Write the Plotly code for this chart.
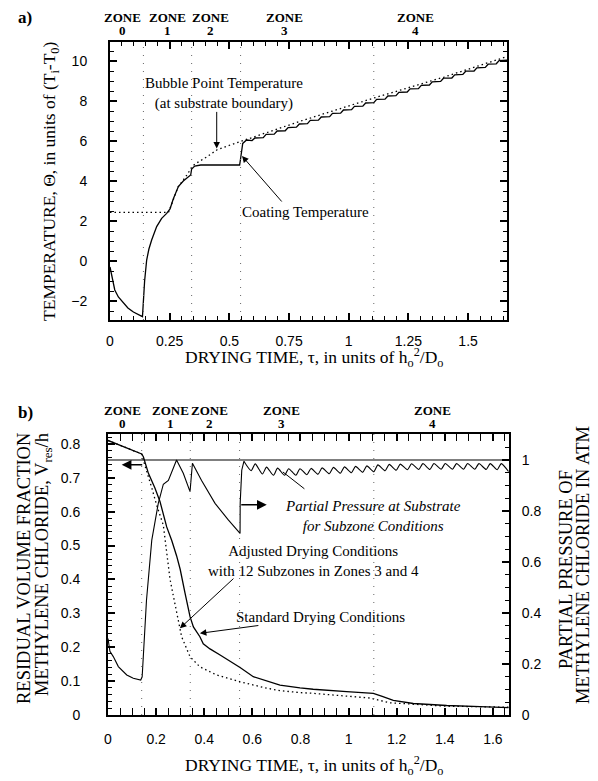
import plotly.graph_objects as go

# page body has an 8px margin; the figure is sized/placed so it fills the 598x781 window
OX, OY = 8, 8
W, H = 598 - OX, 781 - OY


def px(x):
    return (x - OX) / W


def py(y):
    return 1 - (y - OY) / H


# ---------------- shared ----------------
zone_bounds = [0.14, 0.342, 0.547, 1.105]
zone_nums = ["0", "1", "2", "3", "4"]
zone_lbl_x_a = [0.054, 0.239, 0.423, 0.733, 1.278]
zone_lbl_x_b = [0.062, 0.258, 0.424, 0.723, 1.351]

# ---------------- panel a: temperatures ----------------
coat_t = [0.0, 0.01, 0.02, 0.035, 0.056, 0.075, 0.098, 0.12, 0.136, 0.145, 0.1536, 0.163,
          0.1745, 0.1955, 0.2164, 0.2374, 0.2514, 0.265, 0.2863, 0.307, 0.325, 0.338, 0.342,
          0.355, 0.38, 0.45, 0.543, 0.548, 0.556, 0.572,
          0.595, 0.607, 0.642, 0.654, 0.688, 0.700, 0.734, 0.746, 0.781, 0.793,
          0.827, 0.839, 0.873, 0.885, 0.920, 0.932, 0.966, 0.978, 1.012, 1.024,
          1.059, 1.071, 1.105, 1.117, 1.152, 1.164, 1.198, 1.210, 1.245, 1.257,
          1.292, 1.304, 1.338, 1.350, 1.385, 1.397, 1.432, 1.444, 1.478, 1.490,
          1.525, 1.537, 1.572, 1.584, 1.618, 1.630, 1.665]
coat_T = [-0.3, -0.9, -1.45, -1.8, -2.1, -2.35, -2.55, -2.7, -2.78, -1.0, 0.05, 0.6,
          1.05, 1.72, 2.13, 2.38, 2.6, 3.1, 3.72, 4.0, 4.15, 4.3, 4.6,
          4.75, 4.8, 4.8, 4.8, 5.2, 5.88, 6.05,
          6.02, 6.15, 6.17, 6.33, 6.34, 6.50, 6.51, 6.67, 6.69, 6.85,
          6.87, 7.03, 7.04, 7.20, 7.22, 7.38, 7.39, 7.55, 7.57, 7.73,
          7.74, 7.90, 7.92, 8.08, 8.09, 8.25, 8.27, 8.43, 8.45, 8.61,
          8.62, 8.78, 8.80, 8.96, 8.98, 9.14, 9.15, 9.31, 9.33, 9.49,
          9.50, 9.66, 9.68, 9.84, 9.86, 10.02, 10.05]

bubble_t = [0.0, 0.245, 0.26, 0.285, 0.307, 0.325, 0.345, 0.363, 0.405, 0.447, 0.503,
            0.545, 0.56, 0.8, 1.1, 1.4, 1.665]
bubble_T = [2.43, 2.43, 2.9, 3.7, 4.05, 4.35, 4.75, 4.9, 5.2, 5.55, 5.8,
            5.97, 6.05, 7.0, 8.13, 9.2, 10.23]

# ---------------- panel b: residual fraction & partial pressure ----------------
adj_t = [0.0, 0.14, 0.147, 0.168, 0.195, 0.216, 0.244, 0.265, 0.285, 0.3, 0.32, 0.341,
         0.355, 0.382, 0.396, 0.424, 0.466, 0.535, 0.549, 0.604, 0.687, 0.715, 0.798,
         0.853, 0.992, 1.103, 1.14, 1.186, 1.269, 1.408, 1.546, 1.665]
adj_v = [0.81, 0.77, 0.762, 0.713, 0.67, 0.63, 0.555, 0.515, 0.47, 0.43, 0.36, 0.29,
         0.26, 0.231, 0.21, 0.195, 0.177, 0.148, 0.14, 0.113, 0.093, 0.088, 0.08,
         0.076, 0.069, 0.064, 0.055, 0.043, 0.034, 0.028, 0.025, 0.022]

std_t = [0.0, 0.14, 0.154, 0.161, 0.182, 0.202, 0.23, 0.244, 0.258, 0.272, 0.285, 0.306,
         0.341, 0.382, 0.452, 0.549, 0.66, 0.715, 0.798, 0.853, 1.089, 1.172, 1.408, 1.665]
std_v = [0.81, 0.77, 0.735, 0.72, 0.67, 0.62, 0.56, 0.48, 0.40, 0.35, 0.30, 0.231,
         0.172, 0.142, 0.118, 0.098, 0.079, 0.072, 0.066, 0.064, 0.05, 0.036, 0.026, 0.023]

# partial pressure: zones 0-2 and the jump into zone 3
pp_t = [0.0, 0.008, 0.022, 0.043, 0.078, 0.105, 0.136, 0.142, 0.16, 0.182, 0.209, 0.23,
        0.251, 0.265, 0.285, 0.313, 0.341, 0.351, 0.389, 0.445, 0.5, 0.549, 0.5495,
        0.556, 0.565]
pp_v = [0.30, 0.25, 0.229, 0.19, 0.157, 0.144, 0.137, 0.15, 0.45, 0.686, 0.83, 0.905,
        0.92, 0.954, 1.0, 0.948, 0.876, 0.987, 0.92, 0.83, 0.765, 0.712, 0.83,
        0.96, 0.995]
# partial pressure: 12 subzones in zone 3 and 12 in zone 4 (sawtooth)
pp_sub_t = [0.565,
            0.595, 0.612, 0.642, 0.659, 0.688, 0.705, 0.734, 0.751, 0.781, 0.798,
            0.827, 0.844, 0.873, 0.890, 0.920, 0.937, 0.966, 0.983, 1.012, 1.029,
            1.059, 1.076, 1.105, 1.122, 1.152, 1.169, 1.198, 1.215, 1.245, 1.262,
            1.292, 1.309, 1.338, 1.355, 1.385, 1.402, 1.432, 1.449, 1.478, 1.495,
            1.525, 1.542, 1.572, 1.589, 1.618, 1.635, 1.665]
pp_sub_v = [0.995,
            0.958, 0.985, 0.945, 0.972, 0.94, 0.968, 0.94, 0.966, 0.94, 0.966,
            0.942, 0.967, 0.944, 0.969, 0.946, 0.971, 0.948, 0.973, 0.95, 0.975,
            0.952, 0.977, 0.954, 0.981, 0.958, 0.983, 0.96, 0.984, 0.962, 0.985,
            0.963, 0.986, 0.963, 0.986, 0.964, 0.986, 0.964, 0.986, 0.964, 0.986,
            0.964, 0.986, 0.963, 0.986, 0.962, 0.986, 0.955]

pp_ref = 1.0

SERIF = "Liberation Serif"
SANS = "Liberation Sans"

fig = go.Figure()
fig.add_trace(go.Scatter(x=bubble_t, y=bubble_T, mode="lines", xaxis="x", yaxis="y",
                         line=dict(color="black", width=1.3, dash="1.5px,3px"), showlegend=False))
fig.add_trace(go.Scatter(x=coat_t, y=coat_T, mode="lines", xaxis="x", yaxis="y",
                         line=dict(color="black", width=1.3), showlegend=False))
fig.add_trace(go.Scatter(x=std_t, y=std_v, mode="lines", xaxis="x2", yaxis="y2",
                         line=dict(color="black", width=1.3, dash="1.5px,3px"), showlegend=False))
fig.add_trace(go.Scatter(x=adj_t, y=adj_v, mode="lines", xaxis="x2", yaxis="y2",
                         line=dict(color="black", width=1.3), showlegend=False))
fig.add_trace(go.Scatter(x=pp_t, y=pp_v, mode="lines", xaxis="x2", yaxis="y3",
                         line=dict(color="black", width=1.1), showlegend=False))
fig.add_trace(go.Scatter(x=pp_sub_t, y=pp_sub_v, mode="lines", xaxis="x2", yaxis="y3",
                         line=dict(color="black", width=1.1, shape="spline", smoothing=0.6),
                         showlegend=False))

axis_common = dict(showgrid=False, zeroline=False, showline=True, linecolor="black",
                   linewidth=2, ticks="inside", ticklen=7, tickwidth=1.5, tickcolor="black",
                   automargin=False,
                   tickfont=dict(family=SANS, size=14, color="black"))
minor_common = dict(tick0=0, ticks="inside", ticklen=4, tickwidth=1, tickcolor="black")

fig.update_layout(
    width=W, height=H, margin=dict(l=0, r=0, t=0, b=0, autoexpand=False),
    paper_bgcolor="white", plot_bgcolor="white", showlegend=False,
    xaxis=dict(axis_common, domain=[px(110), px(507)], anchor="y", range=[0, 1.663],
               tickvals=[0, 0.25, 0.5, 0.75, 1, 1.25, 1.5],
               ticktext=["0", "0.25", "0.5", "0.75", "1", "1.25", "1.5"],
               mirror="allticks", ticklabelstandoff=7,
               minor=dict(minor_common, dtick=0.05)),
    yaxis=dict(axis_common, domain=[py(320), py(42)], anchor="x", range=[-2.95, 10.95],
               tickvals=[-2, 0, 2, 4, 6, 8, 10], mirror="allticks", ticklabelstandoff=18,
               minor=dict(minor_common, dtick=0.5)),
    xaxis2=dict(axis_common, domain=[px(108), px(509)], anchor="y2", range=[0, 1.667],
                tickvals=[0, 0.2, 0.4, 0.6, 0.8, 1, 1.2, 1.4, 1.6],
                ticktext=["0", "0.2", "0.4", "0.6", "0.8", "1", "1.2", "1.4", "1.6"],
                mirror="allticks", ticklabelstandoff=10,
                minor=dict(minor_common, dtick=0.05)),
    yaxis2=dict(axis_common, domain=[py(715), py(434)], anchor="x2", range=[0, 0.829],
                tickvals=[0, 0.1, 0.2, 0.3, 0.4, 0.5, 0.6, 0.7, 0.8],
                ticktext=["0", "0.1", "0.2", "0.3", "0.4", "0.5", "0.6", "0.7", "0.8"],
                ticklabelstandoff=23,
                minor=dict(minor_common, dtick=0.02)),
    yaxis3=dict(axis_common, overlaying="y2", anchor="x2", side="right", range=[0, 1.102],
                tickvals=[0, 0.2, 0.4, 0.6, 0.8, 1], ticktext=["0", "0.2", "0.4", "0.6", "0.8", "1"],
                ticklabelstandoff=8,
                minor=dict(minor_common, dtick=0.05)),
)

shapes = []
for b in zone_bounds:
    shapes.append(dict(type="line", xref="x", yref="y domain", x0=b, x1=b, y0=0, y1=1,
                       line=dict(color="#666", width=1, dash="1px,7px")))
    shapes.append(dict(type="line", xref="x2", yref="y2 domain", x0=b, x1=b, y0=0, y1=1,
                       line=dict(color="#666", width=1, dash="1px,7px")))
shapes.append(dict(type="line", xref="x2 domain", yref="y3", x0=0, x1=1, y0=pp_ref, y1=pp_ref,
                   line=dict(color="black", width=1.2)))
fig.update_layout(shapes=shapes)

ann = []


def ptext(x, y, text, font, angle=0):
    ann.append(dict(x=px(x), y=py(y), xref="paper", yref="paper", text=text, textangle=angle,
                    showarrow=False, font=font, xanchor="center", yanchor="middle"))


zf = dict(family=SERIF, size=13, color="black")
for xv, n in zip(zone_lbl_x_a, zone_nums):
    ann.append(dict(x=xv, y=py(17), xref="x", yref="paper", text="<b>ZONE</b>",
                    showarrow=False, font=zf, xanchor="center", yanchor="middle"))
    ann.append(dict(x=xv, y=py(31), xref="x", yref="paper", text="<b>" + n + "</b>",
                    showarrow=False, font=zf, xanchor="center", yanchor="middle"))
for xv, n in zip(zone_lbl_x_b, zone_nums):
    ann.append(dict(x=xv, y=py(410), xref="x2", yref="paper", text="<b>ZONE</b>",
                    showarrow=False, font=zf, xanchor="center", yanchor="middle"))
    ann.append(dict(x=xv, y=py(423), xref="x2", yref="paper", text="<b>" + n + "</b>",
                    showarrow=False, font=zf, xanchor="center", yanchor="middle"))

ptext(25, 18, "<b>a)</b>", dict(family=SERIF, size=17, color="black"))
ptext(25, 412, "<b>b)</b>", dict(family=SERIF, size=17, color="black"))

tf = dict(family=SERIF, size=17.5, color="black")
xtitle = "DRYING TIME, τ, in units of h<sub>o</sub><sup>2</sup>/D<sub>o</sub>"
ptext(314, 357, xtitle, tf)
ptext(314, 765, xtitle, tf)
ptext(50, 181, "TEMPERATURE, Θ, in units of (T<sub>i</sub>-T<sub>0</sub>)", tf, -90)
yf = dict(family=SERIF, size=18.5, color="black")
ptext(24, 569, "RESIDUAL VOLUME FRACTION", yf, -90)
ptext(43, 565, "METHYLENE CHLORIDE, V<sub>res</sub>/h", yf, -90)
ptext(566, 570, "PARTIAL PRESSURE OF", yf, -90)
ptext(583, 565, "METHYLENE CHLORIDE IN ATM", yf, -90)

lf = dict(family=SERIF, size=15, color="black")
# panel a labels
ann.append(dict(x=0.478, y=8.4, xref="x", yref="y", showarrow=False, font=lf,
                text="Bubble Point Temperature<br>(at substrate boundary)"))
ann.append(dict(x=0.447, y=5.63, xref="x", yref="y", ax=0, ay=-38, showarrow=True,
                arrowhead=2, arrowsize=1.3, arrowwidth=1, arrowcolor="black", text=""))
ann.append(dict(x=0.821, y=2.45, xref="x", yref="y", showarrow=False, font=lf,
                text="Coating Temperature"))
ann.append(dict(x=0.553, y=5.25, xref="x", yref="y", ax=41, ay=47, showarrow=True,
                arrowhead=2, arrowsize=1.3, arrowwidth=1, arrowcolor="black", text=""))

# panel b labels
ann.append(dict(x=0.057, y=0.738, xref="x2", yref="y2", ax=22, ay=0, showarrow=True,
                arrowhead=2, arrowsize=1.3, arrowwidth=1.5, arrowcolor="black", text=""))
ann.append(dict(x=0.66, y=0.62, xref="x2", yref="y2", ax=-27, ay=0, showarrow=True,
                arrowhead=2, arrowsize=1.3, arrowwidth=1.5, arrowcolor="black", text=""))
ann.append(dict(x=1.101, y=0.587, xref="x2", yref="y2", showarrow=False, font=lf,
                text="<i>Partial Pressure at Substrate<br>for Subzone Conditions</i>"))
ann.append(dict(x=0.727, y=0.717, xref="x2", yref="y2", ax=23, ay=18, showarrow=True,
                arrowhead=0, arrowwidth=1, arrowcolor="black", text=""))
ann.append(dict(x=0.856, y=0.454, xref="x2", yref="y2", showarrow=False, font=lf,
                text="Adjusted Drying Conditions<br>with 12 Subzones in Zones 3 and 4"))
ann.append(dict(x=0.299, y=0.256, xref="x2", yref="y2", ax=55, ay=-51, showarrow=True,
                arrowhead=2, arrowsize=1.3, arrowwidth=1, arrowcolor="black", text=""))
ann.append(dict(x=0.885, y=0.289, xref="x2", yref="y2", showarrow=False, font=lf,
                text="Standard Drying Conditions"))
ann.append(dict(x=0.382, y=0.241, xref="x2", yref="y2", ax=60, ay=-8, showarrow=True,
                arrowhead=2, arrowsize=1.3, arrowwidth=1, arrowcolor="black", text=""))

fig.update_layout(annotations=ann)
fig.write_html("out.html")
